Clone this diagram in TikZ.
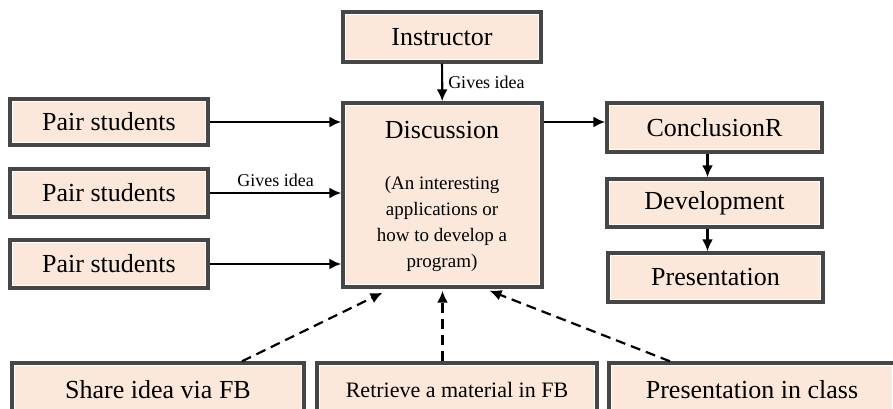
\documentclass[tikz,border=0pt]{standalone}
\usepackage{fontspec}
\setmainfont{Liberation Serif}
\usetikzlibrary{arrows.meta}
\definecolor{peach}{RGB}{251,232,218}
\definecolor{boxgray}{RGB}{70,70,70}
\tikzset{
  box/.style={draw=boxgray, line width=3.4pt, fill=peach, inner sep=2pt,
    font=\fontsize{26}{30}\selectfont,
    path picture={\draw[white, line width=5.6pt] (path picture bounding box.south west) rectangle (path picture bounding box.north east);}},
  flow/.style={line width=2.2pt, -{Latex[length=12pt,width=11pt]}},
  dflow/.style={flow, dash pattern=on 10pt off 6pt},
  lbl/.style={font=\fontsize{18}{20}\selectfont, inner sep=1pt}
}
\begin{document}
\begin{tikzpicture}[x=1pt,y=-1pt]
\useasboundingbox (0,0) rectangle (893,409);

% top and middle
\node[box, minimum width=198, minimum height=50] (instr) at (442,37) {Instructor};
\node[box, minimum width=199, minimum height=184] (disc) at (442.5,195) {};
\node[font=\fontsize{26}{30}\selectfont] (disctitle) at (442,130) {Discussion};
\node[align=center, font=\fontsize{19}{26}\selectfont] (discnote) at (442,224)
  {(An interesting\\applications or\\how to develop a\\program)};

% left column
\node[box, minimum width=198, minimum height=46] (pair1) at (109,122) {Pair students};
\node[box, minimum width=198, minimum height=48] (pair2) at (109,193) {Pair students};
\node[box, minimum width=198, minimum height=48] (pair3) at (109,264) {Pair students};

% right column
\node[box, minimum width=215, minimum height=49] (concl) at (714.5,127.5) {ConclusionR};
\node[box, minimum width=215, minimum height=48] (devel) at (714.5,203) {Development};
\node[box, minimum width=215, minimum height=49] (pres) at (715.5,277.5) {Presentation};

% bottom row
\node[box, minimum width=292, minimum height=54] (share) at (158,390) {Share idea via FB};
\node[box, minimum width=280, minimum height=54, font=\fontsize{22}{26}\selectfont] (retr) at (457,390) {Retrieve a material in FB};
\node[box, minimum width=286, minimum height=54] (presclass) at (752,390) {Presentation in class};

% arrows
\draw[flow] (instr) -- node[lbl, right=4pt] (idea1) {Gives idea} (disc);
\draw[flow] (pair1.east) -- (pair1.east -| disc.west);
\draw[flow] (pair2.east) -- node[lbl, above=4pt] (idea2) {Gives idea} (pair2.east -| disc.west);
\draw[flow] (pair3.east) -- (pair3.east -| disc.west);
\draw[flow] (disc.east |- pair1.east) -- (concl.west |- pair1.east);
\draw[flow] ([xshift=-7]concl.south) -- ([xshift=-7]concl.south |- devel.north);
\draw[flow] ([xshift=-7]devel.south) -- ([xshift=-7]devel.south |- pres.north);

\draw[dflow] ([xshift=84]share.north) -- ([xshift=-60,yshift=-4]disc.south);
\draw[dflow] (retr.north -| disc.south) -- ([yshift=-2]disc.south);
\draw[dflow] ([xshift=-82]presclass.north) -- ([xshift=47,yshift=-2]disc.south);

\end{tikzpicture}
\end{document}
